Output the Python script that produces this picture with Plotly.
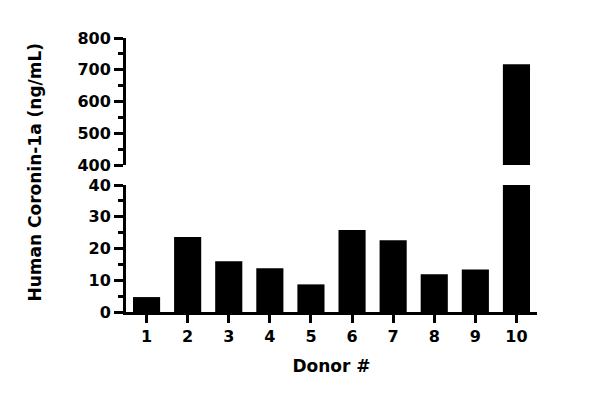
import plotly.graph_objects as go

donors = ["1", "2", "3", "4", "5", "6", "7", "8", "9", "10"]
values = [4.7, 23.6, 16.0, 13.8, 8.7, 25.8, 22.6, 11.9, 13.4, 717]
low_ticks = [0, 10, 20, 30, 40]
high_ticks = [400, 500, 600, 700, 800]

W, H = 600, 399
L, R, T, B = 126, 600 - 537, 38, 399 - 312
ph = H - T - B
low_dom = [0, 127 / ph]
high_dom = [(312 - 165) / ph, 1]

FONT = dict(family="DejaVu Sans", size=16, color="black", weight=700)

fig = go.Figure()
for ax in ["y", "y2"]:
    fig.add_trace(go.Bar(x=donors, y=values, xaxis="x", yaxis=ax,
                         marker=dict(color="black", line=dict(width=0)),
                         width=0.66, showlegend=False))

common_y = dict(showline=True, linecolor="black", linewidth=3, ticks="outside",
                ticklen=9, tickwidth=3, tickcolor="black", showgrid=False,
                zeroline=False, tickfont=FONT, anchor="x")

fig.update_layout(
    width=W, height=H, margin=dict(l=L, r=R, t=T, b=B),
    plot_bgcolor="white", paper_bgcolor="white", bargap=0.34,
    xaxis=dict(type="category", range=[-0.5, 9.5], showline=True,
               linecolor="black", linewidth=3, ticks="outside", ticklen=8,
               tickwidth=3, tickcolor="black", tickfont=FONT, showgrid=False,
               anchor="y", title=dict(text="Donor #", font=dict(FONT, size=17),
                                      standoff=15)),
    yaxis=dict(common_y, domain=low_dom, range=[0, 40], tickvals=low_ticks,
               minor=dict(ticks="outside", ticklen=5, tickwidth=3,
                          tickcolor="black", dtick=5, showgrid=False)),
    yaxis2=dict(common_y, domain=high_dom, range=[400, 800], tickvals=high_ticks,
                minor=dict(ticks="outside", ticklen=5, tickwidth=3,
                           tickcolor="black", dtick=50, tick0=400,
                           showgrid=False)),
    annotations=[dict(text="Human Coronin-1a (ng/mL)", xref="paper", yref="paper",
                      x=0, y=0.509, xanchor="center", yanchor="middle",
                      xshift=-91, textangle=-90, showarrow=False,
                      font=dict(FONT, size=17))],
)

fig.write_html("out.html")
